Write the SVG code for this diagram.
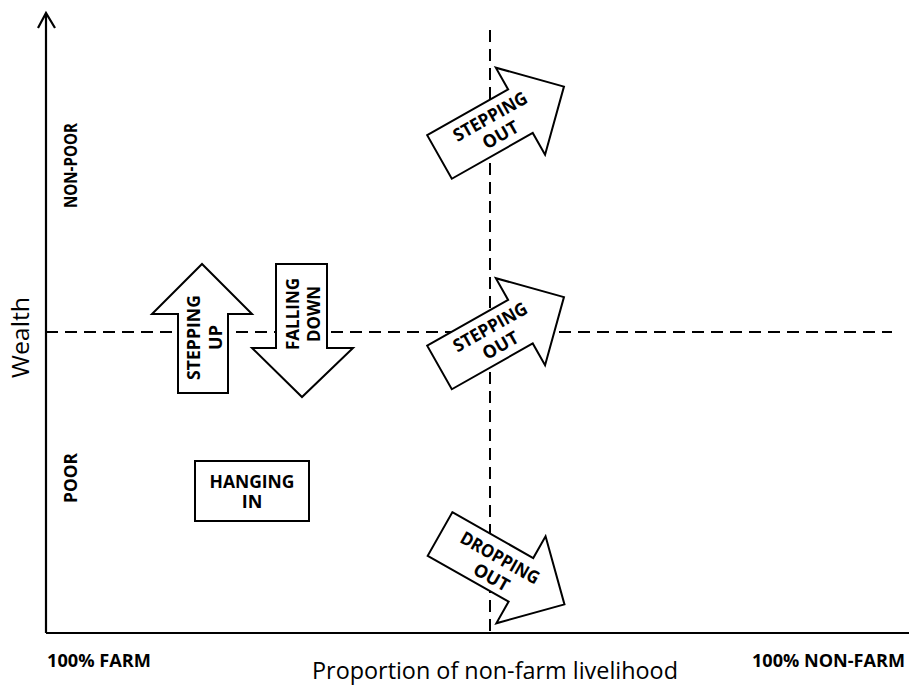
<svg xmlns="http://www.w3.org/2000/svg" width="909" height="685" viewBox="0 0 909 685">
<style>
.bg{fill:#fff}
.axis{stroke:#000;stroke-width:2.2;fill:none}
.dash{stroke:#000;stroke-width:2;fill:none;stroke-dasharray:12 7}
.arrow{fill:#fff;stroke:#000;stroke-width:2;stroke-linejoin:miter}
.lbl{font-family:"Open Sans","Liberation Sans",sans-serif;font-weight:bold;font-size:18px;fill:#000;text-anchor:middle}
.ax{font-family:"Open Sans","Liberation Sans",sans-serif;font-weight:bold;font-size:17px;fill:#000}
.title{font-family:"Open Sans","Liberation Sans",sans-serif;font-size:23px;fill:#000;text-anchor:middle}
</style>
<defs>
<path id="arr" d="M0,-25 L93,-25 L93,-50 L143,0 L93,50 L93,25 L0,25 Z"/>
</defs>
<rect class="bg" x="0" y="0" width="909" height="685"/>
<g id="connectors">
<line class="dash" x1="46" y1="332" x2="892" y2="332"/>
<line class="dash" x1="490" y1="30" x2="490" y2="633"/>
<path class="axis" d="M46,633 L46,13 M38,28 L46,13 L55,28"/>
<line class="axis" x1="46" y1="633" x2="909" y2="633"/>
</g>
<g id="axis-labels">
<text class="title" transform="translate(29,337.5) rotate(-90)" x="0" y="0" textLength="81" lengthAdjust="spacingAndGlyphs">Wealth</text>
<text class="ax" transform="translate(76.5,165.5) rotate(-90)" x="0" y="0" text-anchor="middle" textLength="85" lengthAdjust="spacingAndGlyphs">NON-POOR</text>
<text class="ax" transform="translate(76.5,478) rotate(-90)" x="0" y="0" text-anchor="middle" textLength="50" lengthAdjust="spacingAndGlyphs">POOR</text>
<text class="ax" x="47" y="667" font-size="18" textLength="104" lengthAdjust="spacingAndGlyphs">100% FARM</text>
<text class="ax" x="905" y="667" font-size="18" text-anchor="end" textLength="153" lengthAdjust="spacingAndGlyphs">100% NON-FARM</text>
<text class="title" x="495" y="679" textLength="366" lengthAdjust="spacingAndGlyphs">Proportion of non-farm livelihood</text>
</g>
<g id="stepping-out-top" transform="translate(439.5,157) rotate(-29.5)">
<use href="#arr" class="arrow"/>
<text class="lbl" x="64" y="-4" textLength="82" lengthAdjust="spacingAndGlyphs">STEPPING</text>
<text class="lbl" x="64" y="17">OUT</text>
</g>
<g id="stepping-out-mid" transform="translate(439.5,367.5) rotate(-29.5)">
<use href="#arr" class="arrow"/>
<text class="lbl" x="64" y="-4" textLength="82" lengthAdjust="spacingAndGlyphs">STEPPING</text>
<text class="lbl" x="64" y="17">OUT</text>
</g>
<g id="dropping-out" transform="translate(440,534) rotate(29.5)">
<use href="#arr" class="arrow"/>
<text class="lbl" x="64" y="-2.5" textLength="88" lengthAdjust="spacingAndGlyphs">DROPPING</text>
<text class="lbl" x="66" y="18.5">OUT</text>
</g>
<g id="stepping-up">
<path class="arrow" d="M178,393 L178,314 L152,314 L202,264 L252,314 L228,314 L228,393 Z"/>
<text class="lbl" transform="translate(204,337.5) rotate(-90)" x="0" y="-4" textLength="85" lengthAdjust="spacingAndGlyphs">STEPPING</text>
<text class="lbl" transform="translate(204,337.5) rotate(-90)" x="0" y="17.5">UP</text>
</g>
<g id="falling-down">
<path class="arrow" d="M276,264 L327,264 L327,348 L353,348 L302,397 L252,348 L276,348 Z"/>
<text class="lbl" transform="translate(302,314) rotate(-90)" x="0" y="-3.5" textLength="72" lengthAdjust="spacingAndGlyphs">FALLING</text>
<text class="lbl" transform="translate(302,314) rotate(-90)" x="0" y="17.5" textLength="56" lengthAdjust="spacingAndGlyphs">DOWN</text>
</g>
<g id="hanging-in">
<rect class="arrow" x="195" y="461" width="114" height="60"/>
<text class="lbl" x="252" y="487.5" textLength="85" lengthAdjust="spacingAndGlyphs">HANGING</text>
<text class="lbl" x="252" y="508">IN</text>
</g>
</svg>
